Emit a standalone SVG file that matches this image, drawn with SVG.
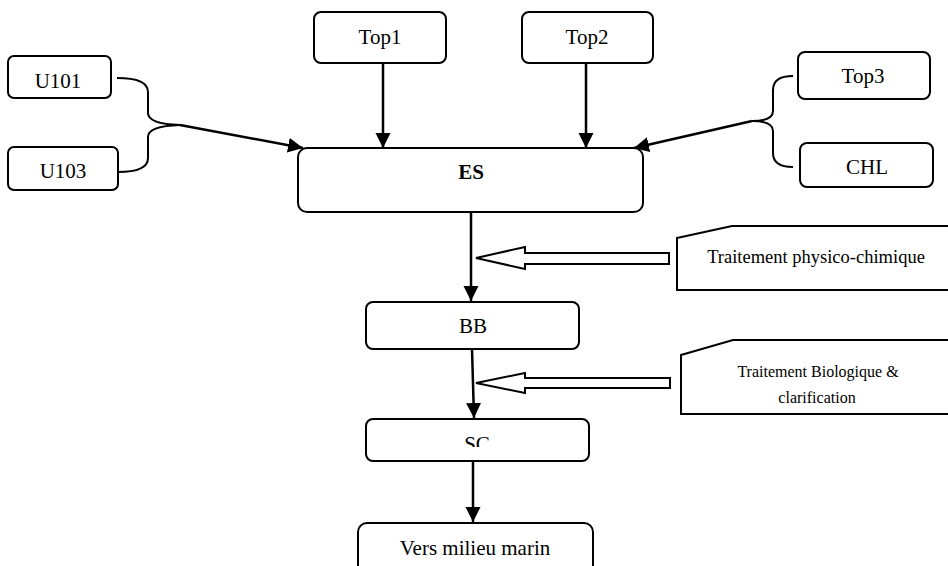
<svg xmlns="http://www.w3.org/2000/svg" width="948" height="566" viewBox="0 0 948 566">
<style>
.box{fill:#fff;stroke:#000;stroke-width:2}
.lbl{font-family:"Liberation Serif","Times New Roman",serif;font-size:21px;fill:#000;text-anchor:middle}
.small{font-family:"Liberation Serif","Times New Roman",serif;fill:#000;text-anchor:middle}
.conn{fill:none;stroke:#000;stroke-width:2.5}
.brace{fill:none;stroke:#000;stroke-width:2}
.hollow{fill:#fff;stroke:#000;stroke-width:2;stroke-linejoin:miter}
</style>
<defs>
<marker id="ah" markerUnits="userSpaceOnUse" markerWidth="16" markerHeight="16" refX="15" refY="7.5" orient="auto">
<path d="M0,0 L15,7.5 L0,15 z" fill="#000"/>
</marker>
<clipPath id="clipU101"><rect x="0" y="0" width="130" height="88"/></clipPath>
<clipPath id="clipSC"><rect x="360" y="400" width="240" height="47"/></clipPath>
</defs>
<rect width="948" height="566" fill="#fff"/>

<g id="connectors">
<path class="brace" d="M117,78 Q148,78 148,92 L148,113 Q148,124 180,125"/>
<path class="brace" d="M118,172 Q148,172 148,158 L148,137 Q148,126 180,125"/>
<line class="conn" x1="180" y1="125" x2="303" y2="148" marker-end="url(#ah)"/>
<line class="conn" x1="383" y1="63" x2="383" y2="148" marker-end="url(#ah)"/>
<line class="conn" x1="586" y1="63" x2="586" y2="148" marker-end="url(#ah)"/>
<path class="brace" d="M793,76 Q773,76 773,90 L773,111 Q773,121 752,121"/>
<path class="brace" d="M793,167 Q773,167 773,153 L773,131 Q773,121 752,121"/>
<line class="conn" x1="752" y1="121" x2="634" y2="148" marker-end="url(#ah)"/>
<line class="conn" x1="471" y1="212" x2="471" y2="301" marker-end="url(#ah)"/>
<line class="conn" x1="472" y1="349" x2="474" y2="418" marker-end="url(#ah)"/>
<line class="conn" x1="473" y1="461" x2="473" y2="522" marker-end="url(#ah)"/>
<polygon class="hollow" points="476,258 525,247 525,253 669,253 669,264 525,264 525,269"/>
<polygon class="hollow" points="476,383 525,373 525,378 670,378 670,388 525,388 525,393"/>
</g>

<g id="U101">
<rect class="box" x="8" y="56" width="103" height="42" rx="6"/>
<text class="lbl" x="58" y="88" clip-path="url(#clipU101)">U101</text>
</g>
<g id="U103">
<rect class="box" x="8" y="147" width="110" height="43" rx="6"/>
<text class="lbl" x="63" y="178">U103</text>
</g>
<g id="Top1">
<rect class="box" x="314" y="12" width="132" height="51" rx="7"/>
<text class="lbl" x="380" y="44">Top1</text>
</g>
<g id="Top2">
<rect class="box" x="522" y="12" width="131" height="51" rx="7"/>
<text class="lbl" x="587" y="44">Top2</text>
</g>
<g id="Top3">
<rect class="box" x="798" y="52" width="132" height="47" rx="7"/>
<text class="lbl" x="863" y="83">Top3</text>
</g>
<g id="CHL">
<rect class="box" x="800" y="143" width="133" height="44" rx="7"/>
<text class="lbl" x="867" y="174">CHL</text>
</g>
<g id="ES">
<rect class="box" x="298" y="148" width="345" height="64" rx="9"/>
<text class="lbl" x="471" y="179" font-weight="bold">ES</text>
</g>
<g id="BB">
<rect class="box" x="366" y="302" width="213" height="47" rx="7"/>
<text class="lbl" x="473" y="333">BB</text>
</g>
<g id="SC">
<rect class="box" x="366" y="419" width="223" height="42" rx="7"/>
<text class="lbl" x="477" y="451" clip-path="url(#clipSC)">SC</text>
</g>
<g id="Vers">
<rect class="box" x="358" y="523" width="235" height="70" rx="9"/>
<text class="lbl" x="475" y="555">Vers milieu marin</text>
</g>
<g id="TraitementPC">
<polygon class="box" points="677,238 732,226 952,226 952,290 677,290"/>
<text class="small" x="816" y="263" font-size="18.5px">Traitement physico-chimique</text>
</g>
<g id="TraitementBio">
<polygon class="box" points="681,355 733,340 952,340 952,414 681,414"/>
<text class="small" x="818" y="377" font-size="16px">Traitement Biologique &amp;</text>
<text class="small" x="817" y="403" font-size="16px">clarification</text>
</g>
</svg>
